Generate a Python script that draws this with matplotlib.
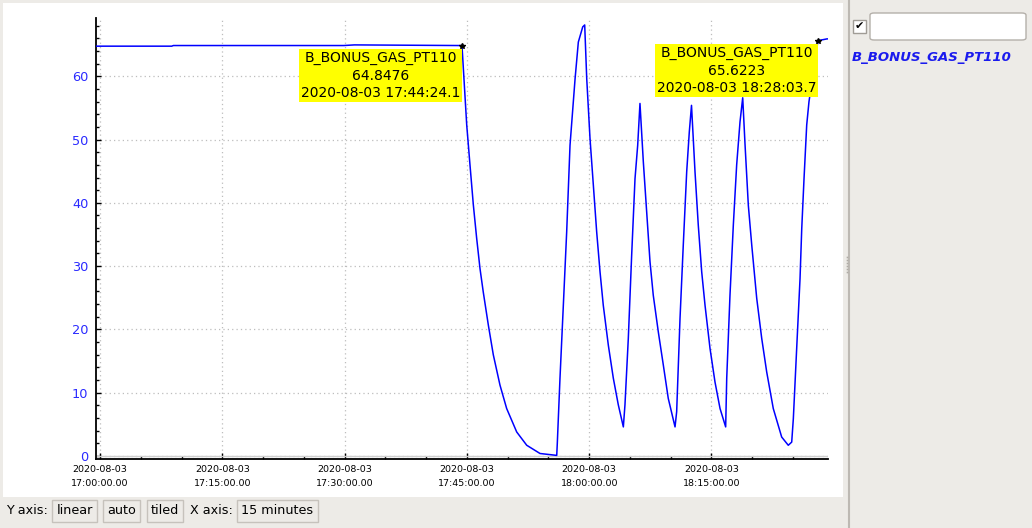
import numpy as np
import pandas as pd
import matplotlib
matplotlib.use("Agg")
import matplotlib.pyplot as plt
import matplotlib.dates as mdates
from matplotlib.patches import Rectangle, FancyBboxPatch

# minutes after 2020-08-03 17:00:00
minutes = [-0.6, 8.8, 9.0, 29.9, 31.2, 44.40,
           44.98, 45.38, 45.79, 46.20, 46.61, 47.01, 47.63, 48.24, 49.06, 49.88,
           51.11, 52.34, 53.97, 56.02, 56.09, 56.42, 56.83, 57.24, 57.65, 58.27,
           58.67, 59.21, 59.45, 59.70, 60.10, 60.51, 60.92, 61.33, 61.73, 62.35,
           62.96, 63.57, 64.19, 64.39, 64.80, 65.21, 65.62, 65.95, 66.23, 66.64,
           67.05, 67.46, 67.86, 68.48, 69.09, 69.70, 70.53, 70.73, 71.14, 71.54,
           71.96, 72.28, 72.55, 72.98, 73.38, 73.80, 74.21, 74.82, 75.43, 76.05,
           76.74, 76.87, 77.27, 77.68, 78.09, 78.50, 78.83, 79.12, 79.52, 79.94,
           80.55, 81.16, 81.77, 82.58, 83.61, 84.42, 84.84, 85.04, 85.45, 85.86,
           86.07, 86.35, 86.68, 86.96, 88.06, 89.17, 89.6]
pressure = [64.75, 64.75, 64.85, 64.85, 64.95, 64.8476,
            52.3, 46.0, 39.7, 34.4, 29.6, 25.9, 20.7, 16.0, 11.2, 7.5,
            3.8, 1.7, 0.4, 0.1, 2.0, 12.3, 23.8, 35.4, 49.1, 59.6,
            65.4, 67.8, 68.1, 59.6, 50.2, 42.8, 35.4, 29.1, 23.8, 17.5,
            12.3, 8.1, 4.6, 8.1, 18.6, 31.7, 43.8, 49.1, 55.7, 46.5,
            38.6, 30.7, 25.4, 19.6, 14.4, 9.1, 4.6, 7.0, 21.7, 33.3,
            44.9, 51.2, 55.4, 44.9, 36.5, 29.1, 23.8, 17.0, 11.7, 7.5,
            4.6, 12.3, 25.4, 36.5, 46.0, 52.8, 56.6, 49.1, 39.6, 33.3,
            24.9, 18.6, 13.3, 7.5, 3.0, 1.7, 2.2, 5.9, 17.0, 28.0,
            35.9, 43.8, 52.3, 56.0, 65.6223, 65.9, 65.9]
labels = [(44.40, 64.8476, "2020-08-03 17:44:24.1"),
          (88.06, 65.6223, "2020-08-03 18:28:03.7")]
series_name = "B_BONUS_GAS_PT110"
y_ticks = [0, 10, 20, 30, 40, 50, 60]

start = pd.Timestamp("2020-08-03 17:00:00")
times = [start + pd.Timedelta(minutes=m) for m in minutes]

bg = "#edebe7"
fig = plt.figure(figsize=(10.32, 5.28), dpi=100, facecolor=bg)
W, H = 1032, 528

def fx(x):
    return x / W

def fy(y):
    return 1 - y / H

# white plot panel
fig.patches.append(Rectangle((fx(3), fy(497)), 840 / W, 494 / H, transform=fig.transFigure,
                             facecolor="white", edgecolor="none", zorder=-5))
# splitter
fig.add_artist(plt.Line2D([fx(849), fx(849)], [0, 1], transform=fig.transFigure,
                          color="#bdb9b3", lw=1.5))
fig.add_artist(plt.Line2D([fx(847)] * 6, [fy(257 + 3 * i) for i in range(6)],
                          transform=fig.transFigure, ls="none", marker="s", ms=1.2,
                          color="#b0aca6", mec="none"))

ax = fig.add_axes([fx(95.5), fy(459), (827.5 - 95.5) / W, (459 - 18) / H], zorder=2)
ax.set_facecolor("white")
ax.plot(times, pressure, color="#0000ff", lw=1.1, zorder=3)
ax.axhline(0, color="#cfcfcf", lw=1, zorder=1)

ax.set_xlim(start + pd.Timedelta(minutes=-0.55), start + pd.Timedelta(minutes=89.23))
ax.set_ylim(-0.47, 69.2)

ax.xaxis.set_major_locator(mdates.MinuteLocator(byminute=[0, 15, 30, 45]))
ax.xaxis.set_minor_locator(mdates.MinuteLocator(byminute=range(0, 60, 5)))
ax.xaxis.set_major_formatter(mdates.DateFormatter("%Y-%m-%d\n%H:%M:%S.00"))
ax.set_yticks(y_ticks)
ax.yaxis.set_minor_locator(matplotlib.ticker.MultipleLocator(2))

for s in ["top", "right"]:
    ax.spines[s].set_visible(False)
for s in ["left", "bottom"]:
    ax.spines[s].set_linewidth(1.3)

ax.tick_params(axis="x", which="major", direction="in", length=4.3, width=1, pad=4.3,
               labelsize=6.8)
ax.tick_params(axis="x", which="minor", direction="in", length=2.2, width=1)
ax.tick_params(axis="y", which="major", direction="in", length=3.8, width=1, pad=5.2,
               labelsize=9.3, labelcolor="#2a2aff")
ax.tick_params(axis="y", which="minor", direction="in", length=2.2, width=1)

ax.grid(True, which="major", color="#bdbdbd", ls=(0, (1, 2.5)), lw=0.9)
ax.set_axisbelow(True)

for m, v, ts in labels:
    t = start + pd.Timedelta(minutes=m)
    ax.plot([t], [v], marker="*", color="black", ms=4, zorder=5)
    ax.annotate(f"{series_name}\n{v:.4f}\n{ts}", xy=(t, v), xytext=(-81.5, -30),
                textcoords="offset pixels", ha="center", va="center",
                multialignment="center", fontsize=10, linespacing=1.32,
                bbox=dict(boxstyle="square,pad=0.15", fc="#ffff00", ec="none"),
                zorder=6, annotation_clip=False)

# legend panel
fig.patches.append(Rectangle((fx(853), fy(33)), 13 / W, 13 / H, transform=fig.transFigure,
                             facecolor="white", edgecolor="#a09c96", lw=1))
fig.text(fx(859.5), fy(26.5), "\u2714", ha="center", va="center", fontsize=8)
fig.patches.append(FancyBboxPatch((fx(870), fy(40)), 156 / W, 27 / H,
                                  boxstyle="round,pad=0,rounding_size=0.004",
                                  transform=fig.transFigure, facecolor="white",
                                  edgecolor="#b4b0aa", lw=1))
fig.text(fx(852), fy(58), series_name, ha="left", va="center", fontsize=9.5,
         color="#1a1aee", fontweight="bold", fontstyle="italic")

# bottom bar
fig.text(fx(6), fy(511), "Y axis:", ha="left", va="center", fontsize=9.2)
fig.text(fx(190), fy(511), "X axis:", ha="left", va="center", fontsize=9.2)
for x0, x1, txt in [(52, 97, "linear"), (103, 140, "auto"), (147, 183, "tiled"),
                    (237, 318, "15 minutes")]:
    fig.patches.append(Rectangle((fx(x0), fy(522)), (x1 - x0) / W, 22 / H,
                                 transform=fig.transFigure, facecolor=bg,
                                 edgecolor="#c6c2bc", lw=1))
    fig.text(fx((x0 + x1) / 2), fy(511), txt, ha="center", va="center", fontsize=9.2)

fig.canvas.draw()
for lab in ax.get_xticklabels():
    lab.set_linespacing(1.75)

fig.savefig("out.png", dpi=100, facecolor=bg)
